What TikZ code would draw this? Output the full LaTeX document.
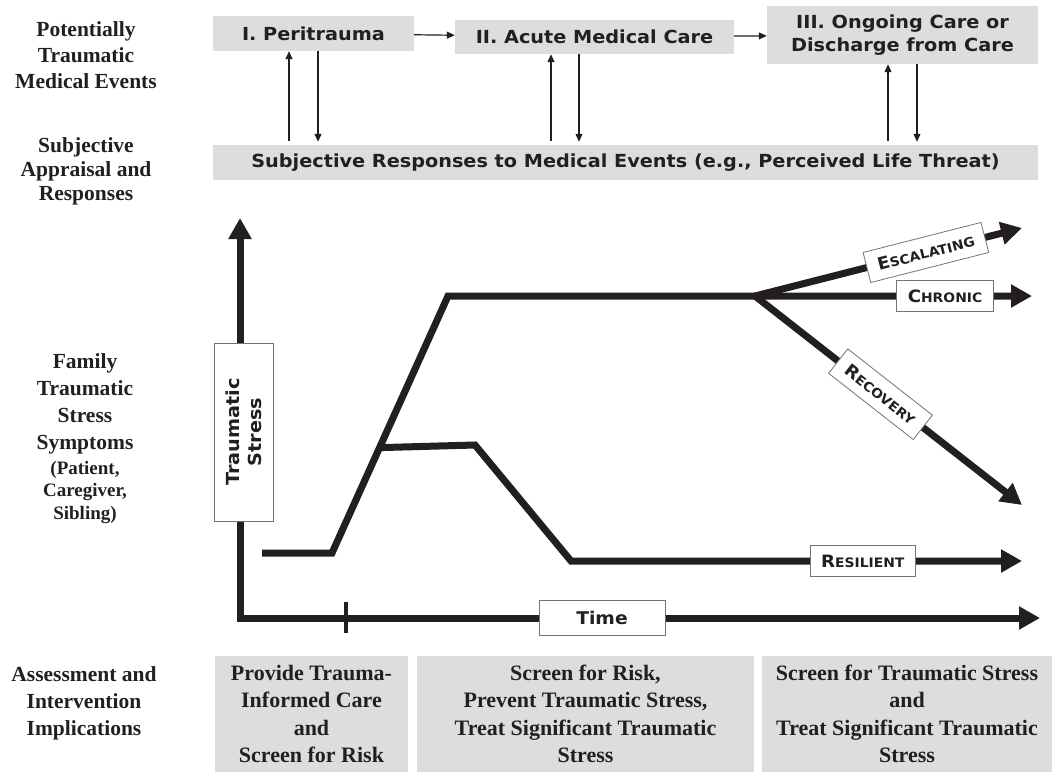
\documentclass[tikz,border=0pt]{standalone}
\usepackage{fontspec}
\setmainfont{Liberation Serif}
\newfontfamily\vfont{DejaVu Sans}[FakeStretch=1.07]
\usetikzlibrary{arrows.meta,calc}

\definecolor{boxgray}{HTML}{DCDDDE}
\definecolor{ink}{HTML}{231F20}

% small caps imitation: large initial, smaller capitals after it
\newcommand\fakesc[2]{{\fontsize{17}{18}\selectfont #1}{\fontsize{13}{14}\selectfont #2}}

\tikzset{
  rowlabel/.style={align=center, text=ink, font=\bfseries\fontsize{21.5}{26}\selectfont},
  phase/.style={fill=boxgray, text=ink, align=center, inner sep=0pt,
                font=\vfont\bfseries\fontsize{18}{23}\selectfont},
  implication/.style={fill=boxgray, text=ink, align=center, inner sep=0pt,
                font=\bfseries\fontsize{22}{27.5}\selectfont},
  thinarrow/.style={draw=ink, line width=1.2pt, -{Triangle[length=8pt,width=7pt]}},
  heavy/.style={draw=ink, line width=7pt, line join=miter},
  bigtip/.style={-{Triangle[length=21pt,width=22pt]}},
  tag/.style={draw=black!55, line width=0.8pt, fill=white, text=ink,
              inner xsep=11pt, inner ysep=0pt, minimum height=31pt,
              font=\vfont\bfseries},
}

\begin{document}
\begin{tikzpicture}[x=1pt,y=-1pt]
\useasboundingbox (0,0) rectangle (1055,772);

% ---- row labels ----
\node[rowlabel] (lab1) at (86,55) {Potentially\\Traumatic\\Medical Events};
\node[rowlabel, font=\bfseries\fontsize{21.5}{24}\selectfont] (lab2) at (86,171) {Subjective\\Appraisal and\\Responses};
\node[rowlabel, font=\bfseries\fontsize{21.5}{27}\selectfont] (lab3) at (85,404) {Family\\Traumatic\\Stress\\Symptoms};
\node[rowlabel, font=\bfseries\fontsize{19}{22.5}\selectfont] (lab4) at (85,492) {(Patient,\\Caregiver,\\Sibling)};
\node[rowlabel, font=\bfseries\fontsize{21.5}{27}\selectfont] (lab5) at (84,703) {Assessment and\\Intervention\\Implications};

% ---- phases of the medical event ----
\node[phase, minimum width=201pt, minimum height=35pt] (p1) at (313.5,33.5) {I. Peritrauma};
\node[phase, minimum width=279pt, minimum height=34pt] (p2) at (594.5,37) {II. Acute Medical Care};
\node[phase, minimum width=271pt, minimum height=58pt] (p3) at (902.5,35) {III. Ongoing Care or\\Discharge from Care};
\node[phase, minimum width=825pt, minimum height=35pt] (resp) at (625.5,162.5)
  {Subjective Responses to Medical Events (e.g., Perceived Life Threat)};

\draw[thinarrow] (p1) -- (p2);
\draw[thinarrow] (p2) -- (p3);

\coordinate (u1) at (289,0); \coordinate (d1) at (318,0);
\coordinate (u2) at (551,0); \coordinate (d2) at (579,0);
\coordinate (u3) at (888,0); \coordinate (d3) at (917,0);
\draw[thinarrow] ($(resp.north -| u1)+(0,-4)$) -- (p1.south -| u1);
\draw[thinarrow] (p1.south -| d1) -- ($(resp.north -| d1)+(0,-3)$);
\draw[thinarrow] ($(resp.north -| u2)+(0,-4)$) -- (p2.south -| u2);
\draw[thinarrow] (p2.south -| d2) -- ($(resp.north -| d2)+(0,-3)$);
\draw[thinarrow] ($(resp.north -| u3)+(0,-4)$) -- (p3.south -| u3);
\draw[thinarrow] (p3.south -| d3) -- ($(resp.north -| d3)+(0,-3)$);

% ---- axes ----
\coordinate (origin) at (240,618);
\coordinate (ytip) at (240,218);
\coordinate (xtip) at (1040,618);
\draw[heavy, {Triangle[length=21pt,width=22pt]}-{Triangle[length=21pt,width=22pt]}]
  (ytip) -- (origin) -- (xtip);
\draw[draw=ink, line width=4pt] (346,602) -- (346,633);

\node[tag, align=center, font=\vfont\bfseries\fontsize{18}{22}\selectfont, rotate=90,
      inner xsep=0pt, minimum width=178pt, minimum height=59pt] (ylab) at (243.5,432) {Traumatic\\Stress};
\node[tag, align=center, font=\vfont\bfseries\fontsize{17.5}{20}\selectfont,
      minimum width=126pt, minimum height=35pt] (xlab) at (602,618) {Time};

% ---- symptom trajectories ----
\coordinate (s0) at (262,553);
\coordinate (s1) at (332,553);
\coordinate (s2) at (448,296);
\coordinate (fork) at (755,296);
\draw[heavy, bigtip] (s0) -- (s1) -- (s2) -- (fork) -- (1032,296)
  node[tag, pos=0.686] (chronic) {\fakesc{C}{HRONIC}};
\draw[heavy, bigtip] (fork) -- (1022,228)
  node[tag, pos=0.64, sloped] (escal) {\fakesc{E}{SCALATING}};
\draw[heavy, bigtip] (fork) -- (1022,505)
  node[tag, pos=0.47, sloped] (recov) {\fakesc{R}{ECOVERY}};

\coordinate (m0) at ($(s1)!0.41!(s2)$);
\coordinate (m1) at (475,445);
\coordinate (m2) at (571,561);
\draw[heavy, bigtip] (m0) -- (m1) -- (m2) -- (1022,561)
  node[tag, pos=0.647] (resil) {\fakesc{R}{ESILIENT}};

% ---- implications ----
\node[implication, minimum width=193pt, minimum height=116pt] (i1) at (311.5,714)
  {Provide Trauma-\\Informed Care\\and\\Screen for Risk};
\node[implication, minimum width=337pt, minimum height=116pt] (i2) at (585.5,714)
  {Screen for Risk,\\Prevent Traumatic Stress,\\Treat Significant Traumatic\\Stress};
\node[implication, minimum width=290pt, minimum height=116pt] (i3) at (907,714)
  {Screen for Traumatic Stress\\and\\Treat Significant Traumatic\\Stress};
\end{tikzpicture}
\end{document}
